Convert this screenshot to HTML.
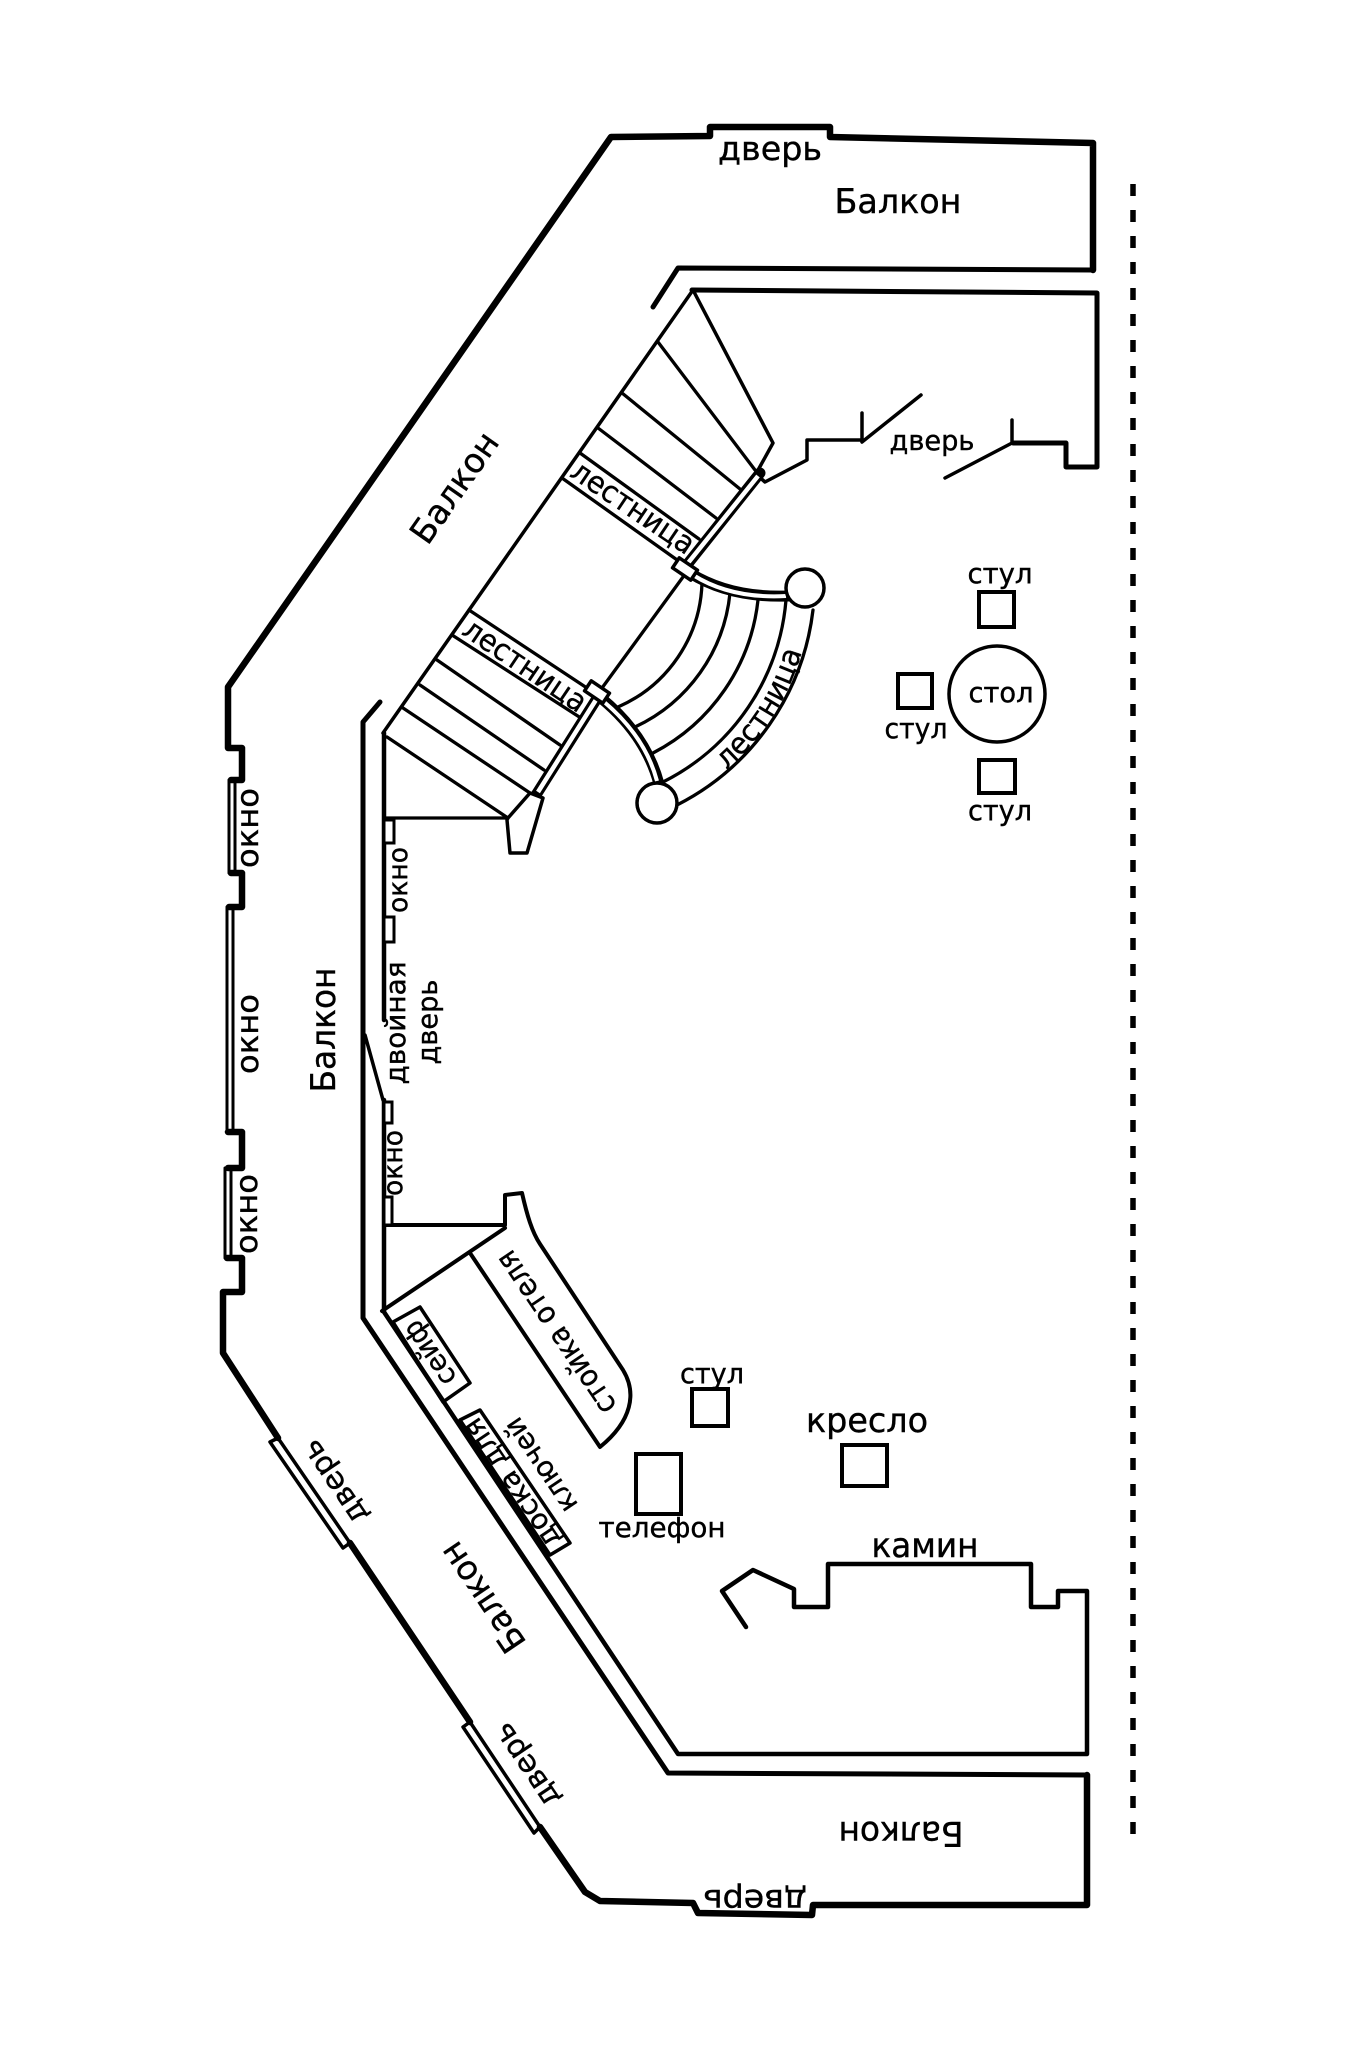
<!DOCTYPE html>
<html><head><meta charset="utf-8"><style>
html,body{margin:0;padding:0;background:#fff;}
svg{display:block;}
text{font-family:"DejaVu Sans","Liberation Sans",sans-serif;fill:#000;stroke:#000;stroke-width:0.4;}
</style></head><body>
<svg width="1345" height="2070" viewBox="0 0 1345 2070" xmlns="http://www.w3.org/2000/svg">
<rect width="1345" height="2070" fill="#fff"/>
<g fill="none" stroke="#000" stroke-linecap="round" stroke-linejoin="round">
<!-- outer wall -->
<path stroke-width="6.5" d="M1093,270 L1093,143 L830,137 L830,127 L710,127 L710,136 L611,137 L228,687 L228,748 L242,748 L242,780 L231,780
M231,873 L242,873 L242,907 L229,907
M228,1132 L242,1132 L242,1168 L228,1168
M227,1258 L242,1258 L242,1292 L223,1292 L223,1353 L278,1438
M350,1543 L470,1722
M540,1827 L585,1892 L600,1901 L693,1903 L698,1913 L812,1915 L813,1905 L1087,1905 L1087,1775"/>
<!-- windows outer -->
<path stroke-width="3" d="M229,780 L229,873 M235,780 L235,873 M227,907 L227,1132 M233,907 L233,1132 M225,1168 L225,1258 M231,1168 L231,1258"/>
<!-- doors on diagonal -->
<path stroke-width="3.5" d="M278,1438 L350,1543 L343,1548 L270,1442 Z M470,1722 L540,1827 L534,1833 L463,1727 Z"/>
<!-- top balcony inner -->
<path stroke-width="5" d="M1093,270 L678,268 L653,307"/>
<!-- room top + right -->
<path stroke-width="5" d="M692,290 L1097,293 L1097,467 L1066,467 L1066,443 L1013,443"/>
<path stroke-width="3.5" d="M1012,420 L1012,443 L945,478 M862,413 L862,440 M862,442 L921,395 M862,440 L807,440 L807,460 L765,482 L757,475"/>
<!-- stairs upper -->
<path stroke-width="3.5" d="M693,290 L773,443 L757,472 M693,290 L383,733"/>
<path stroke-width="3.3" d="M658,342 L755,470 M622,393 L740,489 M598,428 L716,518 M580,453 L699,539 M562,478 L680,562"/>
<!-- lower flight -->
<path stroke-width="3.3" d="M469,610 L590,690 M452,635 L584,720 M437,660 L560,745 M420,685 L544,770 M403,708 L530,793 M387,737 L508,818 M385,818 L508,818"/>
<!-- inner landing line -->
<path stroke-width="3.3" d="M683,577 L602,688"/>
<!-- curved stair arcs -->
<path stroke-width="3.3" d="M702,583 A140,140 0 0 1 618,707 M730,593 A166,166 0 0 1 635,727 M758,600 A196,196 0 0 1 653,753 M786,600 A224,224 0 0 1 663,782 M813,610 A252,252 0 0 1 677,805"/>
<!-- banisters double -->
<path stroke-width="11" d="M760,473 L686,566 M601,692 L536,795 M690,573 Q730,598 788,596 M601,698 Q646,735 659,784"/>
</g>
<g fill="none" stroke="#fff" stroke-linecap="butt">
<path stroke-width="4.5" d="M758,476 L688,563 M599,695 L538,792"/>
<path stroke-width="4" d="M693,575 Q731,599 786,596 M603,701 Q645,736 657,781"/>
</g>
<g fill="#fff" stroke="#000" stroke-width="3.5" stroke-linejoin="round">
<rect x="-11" y="-6" width="22" height="12" transform="translate(685,569) rotate(34)"/>
<rect x="-11" y="-6" width="22" height="12" transform="translate(597,692) rotate(34)"/>
<circle cx="805" cy="588" r="19"/>
<circle cx="657" cy="803" r="20"/>
<path d="M508,818 L530,793 L543,798 L527,853 L510,853 L507,820 Z"/>
</g>
<g fill="none" stroke="#000" stroke-linecap="round" stroke-linejoin="round">
<!-- balcony inner wall -->
<path stroke-width="5" d="M380,702 L363,722 L363,1318 L668,1773 L1087,1775"/>
<!-- room wall -->
<path stroke-width="4.5" d="M384,733 L384,1020 M384,1100 L384,1312 L678,1754 L1087,1754 L1087,1591 L1058,1591 L1058,1607 L1031,1607 L1031,1564 L828,1564 L828,1607 L794,1607 L794,1589 L753,1570 L722,1591 L746,1627"/>
<path stroke-width="3.5" d="M365,1035 L383,1100"/>
<!-- reception -->
<path stroke-width="4" d="M384,1225 L505,1225 L505,1195 L522,1193 C527,1215 532,1232 540,1244 L623,1370 C637,1393 632,1421 600,1447 L470,1253 M382,1311 L505,1228"/>
<path stroke-width="3.5" d="M393,1322 L420,1307 L470,1383 L443,1402 Z M460,1420 L480,1410 L570,1543 L550,1555 Z"/>
</g>
<g fill="#fff" stroke="#000" stroke-width="3">
<rect x="384" y="820" width="10" height="23"/>
<rect x="384" y="917" width="10" height="25"/>
<rect x="384" y="1102" width="8" height="21"/>
<rect x="384" y="1197" width="8" height="28"/>
</g>
<g fill="none" stroke="#000" stroke-width="4">
<rect x="979" y="592" width="35" height="35"/>
<rect x="898" y="674" width="34" height="34"/>
<rect x="979" y="760" width="36" height="33"/>
<circle cx="997" cy="694" r="48" stroke-width="3.5"/>
<rect x="692" y="1389" width="36" height="37"/>
<rect x="636" y="1454" width="45" height="60"/>
<rect x="842" y="1445" width="45" height="41"/>
</g>
<!-- dashed line -->
<path d="M1133,184 L1133,1840" stroke="#000" stroke-width="5.5" stroke-dasharray="12 14" fill="none"/>
<!-- curved label path -->
<defs><path id="arcp" d="M705,787 A249,249 0 0 0 808,625"/></defs>

<!-- texts -->
<text x="770" y="160" font-size="33" text-anchor="middle" textLength="104" lengthAdjust="spacingAndGlyphs">дверь</text>
<text x="898" y="213" font-size="34" text-anchor="middle" textLength="127" lengthAdjust="spacingAndGlyphs">Балкон</text>
<text x="932" y="450" font-size="28" text-anchor="middle" textLength="85" lengthAdjust="spacingAndGlyphs">дверь</text>
<text transform="translate(455,488) rotate(-55)" x="0" y="11" font-size="34" text-anchor="middle" textLength="127" lengthAdjust="spacingAndGlyphs">Балкон</text>
<text transform="translate(335,1030) rotate(-90)" x="0" y="0" font-size="34" text-anchor="middle" textLength="125" lengthAdjust="spacingAndGlyphs">Балкон</text>
<text transform="translate(258,828) rotate(-90)" x="0" y="0" font-size="30" text-anchor="middle" textLength="80" lengthAdjust="spacingAndGlyphs">окно</text>
<text transform="translate(258,1034) rotate(-90)" x="0" y="0" font-size="30" text-anchor="middle" textLength="80" lengthAdjust="spacingAndGlyphs">окно</text>
<text transform="translate(257,1214) rotate(-90)" x="0" y="0" font-size="30" text-anchor="middle" textLength="80" lengthAdjust="spacingAndGlyphs">окно</text>
<text transform="translate(407,880) rotate(-90)" x="0" y="0" font-size="27" text-anchor="middle" textLength="66" lengthAdjust="spacingAndGlyphs">окно</text>
<text transform="translate(402,1163) rotate(-90)" x="0" y="0" font-size="27" text-anchor="middle" textLength="66" lengthAdjust="spacingAndGlyphs">окно</text>
<text transform="translate(405,1023) rotate(-90)" x="0" y="0" font-size="28" text-anchor="middle" textLength="123" lengthAdjust="spacingAndGlyphs">двойная</text>
<text transform="translate(437,1022) rotate(-90)" x="0" y="0" font-size="28" text-anchor="middle" textLength="85" lengthAdjust="spacingAndGlyphs">дверь</text>
<text transform="translate(632,509) rotate(34)" x="0" y="8" font-size="30" text-anchor="middle" textLength="142" lengthAdjust="spacingAndGlyphs">лестница</text>
<text transform="translate(524,667) rotate(34)" x="0" y="8" font-size="30" text-anchor="middle" textLength="142" lengthAdjust="spacingAndGlyphs">лестница</text>
<text font-size="30" textLength="142" lengthAdjust="spacingAndGlyphs"><textPath href="#arcp" startOffset="50%" text-anchor="middle">лестница</textPath></text>
<text x="1000" y="583" font-size="28" text-anchor="middle" textLength="65" lengthAdjust="spacingAndGlyphs">стул</text>
<text x="1001" y="702" font-size="28" text-anchor="middle" textLength="65" lengthAdjust="spacingAndGlyphs">стол</text>
<text x="916" y="738" font-size="28" text-anchor="middle" textLength="63" lengthAdjust="spacingAndGlyphs">стул</text>
<text x="1000" y="820" font-size="28" text-anchor="middle" textLength="64" lengthAdjust="spacingAndGlyphs">стул</text>
<text x="712" y="1383" font-size="28" text-anchor="middle" textLength="64" lengthAdjust="spacingAndGlyphs">стул</text>
<text x="867" y="1432" font-size="34" text-anchor="middle" textLength="122" lengthAdjust="spacingAndGlyphs">кресло</text>
<text x="662" y="1537" font-size="28" text-anchor="middle" textLength="127" lengthAdjust="spacingAndGlyphs">телефон</text>
<text x="925" y="1557" font-size="34" text-anchor="middle" textLength="107" lengthAdjust="spacingAndGlyphs">камин</text>
<text transform="translate(430,1353) rotate(236)" x="0" y="9" font-size="28" text-anchor="middle" textLength="72" lengthAdjust="spacingAndGlyphs">сейф</text>
<text transform="translate(512,1483) rotate(236)" x="0" y="9" font-size="28" text-anchor="middle" textLength="150" lengthAdjust="spacingAndGlyphs">доска для</text>
<text transform="translate(541,1465) rotate(236)" x="0" y="9" font-size="28" text-anchor="middle" textLength="108" lengthAdjust="spacingAndGlyphs">ключей</text>
<text transform="translate(557,1332) rotate(236)" x="0" y="9" font-size="30" text-anchor="middle" textLength="190" lengthAdjust="spacingAndGlyphs">стойка отеля</text>
<text transform="translate(335,1482) rotate(236)" x="0" y="9" font-size="30" text-anchor="middle" textLength="95" lengthAdjust="spacingAndGlyphs">дверь</text>
<text transform="translate(527,1765) rotate(236)" x="0" y="9" font-size="30" text-anchor="middle" textLength="95" lengthAdjust="spacingAndGlyphs">дверь</text>
<text transform="translate(483,1597) rotate(236)" x="0" y="11" font-size="34" text-anchor="middle" textLength="125" lengthAdjust="spacingAndGlyphs">Балкон</text>
<text transform="translate(755,1890) rotate(180)" x="0" y="0" font-size="32" text-anchor="middle" textLength="104" lengthAdjust="spacingAndGlyphs">дверь</text>
<text transform="translate(901,1822) rotate(180)" x="0" y="0" font-size="34" text-anchor="middle" textLength="125" lengthAdjust="spacingAndGlyphs">Балкон</text>
</svg>
</body></html>
